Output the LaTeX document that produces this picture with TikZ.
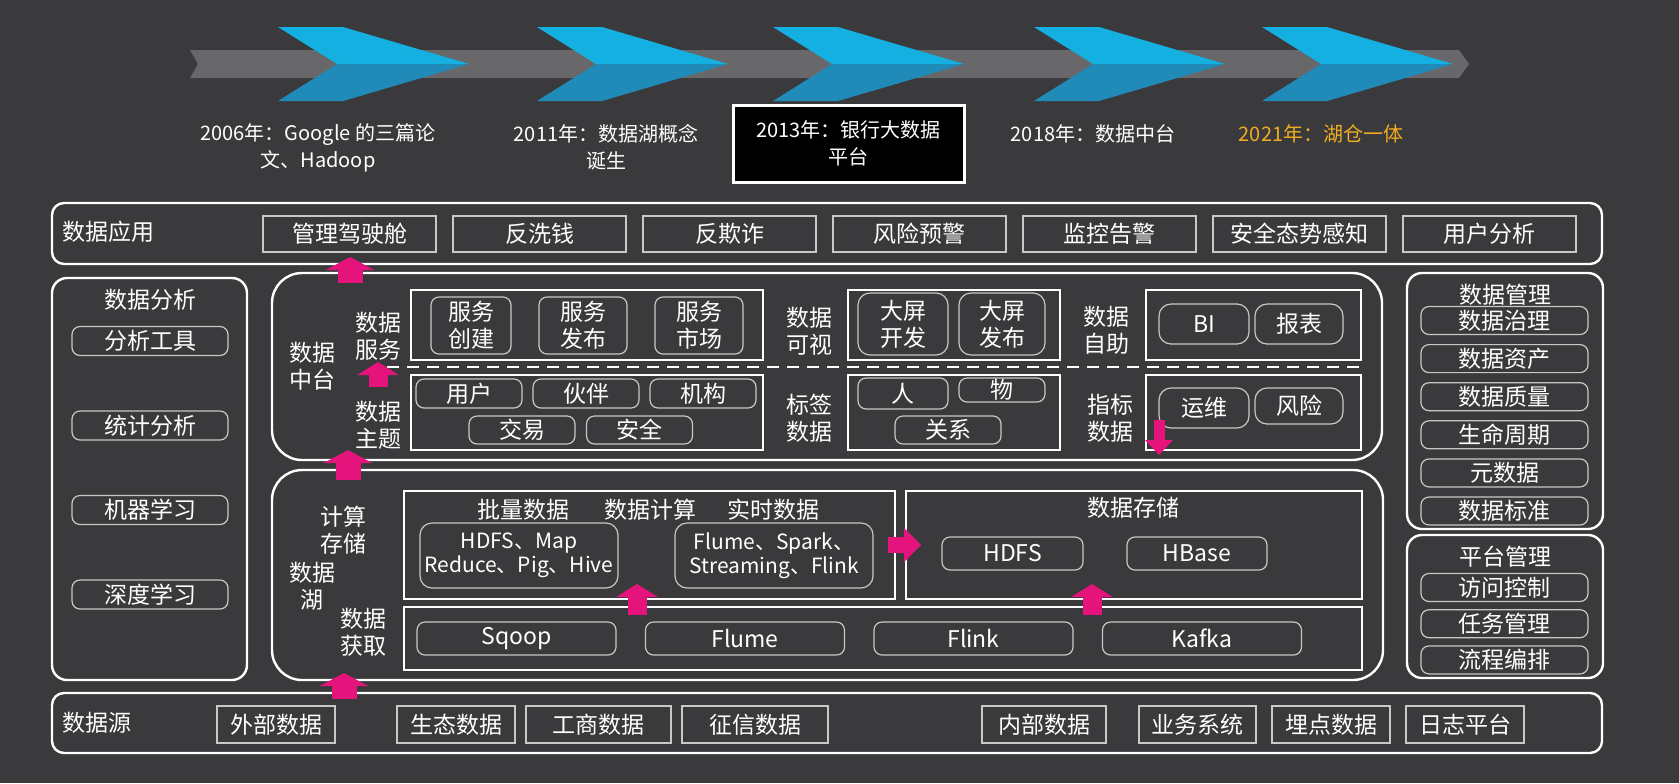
\documentclass[tikz,border=0pt]{standalone}
\usepackage{fontspec}
\setmainfont{Noto Sans CJK SC}
\usetikzlibrary{arrows.meta}

\definecolor{bgc}{RGB}{58,58,61}
\definecolor{barc}{RGB}{104,104,107}
\definecolor{cyantop}{RGB}{20,176,225}
\definecolor{cyanbot}{RGB}{32,138,184}
\definecolor{pinkc}{RGB}{228,20,124}
\definecolor{linec}{RGB}{200,200,200}
\definecolor{yearc}{RGB}{240,172,32}

\tikzset{
  wh/.style 2 args={minimum width=#1*0.5pt, minimum height=#2*0.5pt},
  txt/.style={text=white, font=\fontsize{11.5}{13.5}\selectfont, align=center, inner sep=0pt},
  yeartxt/.style={text=white, font=\fontsize{10}{13.5}\selectfont, align=center, inner sep=0pt},
  bigframe/.style={draw=white, line width=1.2pt, inner sep=0pt},
  boxframe/.style={draw=white, line width=0.9pt, inner sep=0pt},
  sqitem/.style={txt, draw=linec, line width=0.7pt},
  rditem/.style={txt, draw=linec, line width=0.6pt, rounded corners=4pt},
  pinkup/.style={draw=pinkc, line width=12.5pt, -{Triangle[width=24pt,length=6.5pt]}},
  pinkmid/.style={draw=pinkc, line width=9.5pt, -{Triangle[width=20.5pt,length=6.5pt]}},
  pinkright/.style={draw=pinkc, line width=8pt, -{Triangle[width=16.5pt,length=8.5pt]}},
  pinkdown/.style={draw=pinkc, line width=5.5pt, -{Triangle[width=13.5pt,length=7.5pt]}},
}

\begin{document}
\begin{tikzpicture}[x=0.5pt, y=-0.5pt]
    % Sfondo
    \fill[bgc] (0,0) rectangle (1679,783);
    % Linea del tempo
    \fill[barc] (190,50) -- (1459,50) -- (1469,64) -- (1459,78) -- (190,78) -- (198,64) -- cycle;
    \foreach \b in {278,537,773,1034,1262} {
        \fill[cyantop] (\b,27) -- (\b+65,27) -- (\b+191,64) -- (\b+59,64) -- cycle;
        \fill[cyanbot] (\b+59,64) -- (\b+191,64) -- (\b+65,101) -- (\b,101) -- cycle;
    }
    \node[yeartxt] (y2006) at (318,147.5) {2006年：Google 的三篇论\\文、Hadoop};
    \node[yeartxt] (y2011) at (606,147.5) {2011年：数据湖概念\\诞生};
    \node[yeartxt, fill=black, draw=white, line width=1.5pt, wh={231}{77}] (y2013) at (848.5,143.5) {2013年：银行大数据\\平台};
    \node[yeartxt] (y2018) at (1093,134) {2018年：数据中台};
    \node[yeartxt, text=yearc] (y2021) at (1321,134) {2021年：湖仓一体};

    % Dati applicazione
    \node[bigframe, rounded corners=6pt, wh={1550}{61}] (app) at (827,233.5) {};
    \node[txt, anchor=west] (appl) at (62,232) {数据应用};
    \foreach \t [count=\i from 0] in {管理驾驶舱,反洗钱,反欺诈,风险预警,监控告警,安全态势感知,用户分析}
        \node[sqitem, wh={173}{36}] (app\i) at (349.5+190*\i,234) {\t};

    % Analisi (sinistra)
    \node[bigframe, rounded corners=7.5pt, wh={195}{402}] (ana) at (149.5,479) {};
    \node[txt] (anal) at (150,300) {数据分析};
    \foreach \t [count=\i from 0] in {分析工具,统计分析,机器学习,深度学习}
        \node[rditem, wh={156}{29}] (ana\i) at (150,341+84.5*\i) {\t};

    % Gestione (destra)
    \node[bigframe, rounded corners=7.5pt, wh={196}{256}] (mgmt) at (1505,401) {};
    \node[txt] (mgmtl) at (1505,295) {数据管理};
    \foreach \t [count=\i from 0] in {数据治理,数据资产,数据质量,生命周期,元数据,数据标准}
        \node[rditem, wh={167}{28}] (mgmt\i) at (1504.5,320.5+38.1*\i) {\t};
    \node[bigframe, rounded corners=7.5pt, wh={196}{143}] (plat) at (1505,606.5) {};
    \node[txt] (platl) at (1505,557) {平台管理};
    \foreach \t [count=\i from 0] in {访问控制,任务管理,流程编排}
        \node[rditem, wh={167}{28}] (plat\i) at (1504.5,587.5+36.2*\i) {\t};

    % Data middle platform
    \node[bigframe, rounded corners=15pt, wh={1110}{187}] (zt) at (827,366.5) {};
    \node[txt] (ztl) at (312,366) {数据\\中台};
    \node[txt] (svcl) at (378,336) {数据\\服务};
    \node[txt] (topl) at (378,425) {数据\\主题};
    \node[txt] (visl) at (809,331) {数据\\可视};
    \node[txt] (tagl) at (809,418) {标签\\数据};
    \node[txt] (selfl) at (1106,330) {数据\\自助};
    \node[txt] (metl) at (1110,418) {指标\\数据};
    \node[boxframe, wh={352}{70}] (svc) at (587,325) {};
    \node[boxframe, wh={212}{70}] (vis) at (954,325) {};
    \node[boxframe, wh={215}{70}] (self) at (1253.5,325) {};
    \node[boxframe, wh={352}{75}] (topic) at (587,412.5) {};
    \node[boxframe, wh={212}{75}] (tag) at (954,412.5) {};
    \node[boxframe, wh={215}{75}] (metric) at (1253.5,412.5) {};
    \coordinate (dl1) at (387,367);
    \coordinate (dl2) at (1361,367);
    \draw[white, line width=0.9pt, dash pattern=on 6pt off 4pt] (dl1) -- (dl2);
    \node[rditem, wh={80}{57}] (fwcj) at (471,325.5) {服务\\创建};
    \node[rditem, wh={88}{57}] (fwfb) at (583,325.5) {服务\\发布};
    \node[rditem, wh={88}{57}] (fwsc) at (699,325.5) {服务\\市场};
    \node[rditem, wh={106}{29}] (yh) at (469,393.5) {用户};
    \node[rditem, wh={106}{29}] (hb) at (586,393.5) {伙伴};
    \node[rditem, wh={106}{29}] (jg) at (703,393.5) {机构};
    \node[rditem, wh={106}{28}] (jy) at (522,430) {交易};
    \node[rditem, wh={106}{28}] (aq) at (639.5,430) {安全};
    \node[rditem, rounded corners=6pt, wh={90}{62}] (dpkf) at (903,324) {大屏\\开发};
    \node[rditem, rounded corners=6pt, wh={86}{62}] (dpfb) at (1002,324) {大屏\\发布};
    \node[rditem, rounded corners=6pt, wh={90}{40}] (bi) at (1204,324) {BI};
    \node[rditem, rounded corners=6pt, wh={88}{40}] (bb) at (1299,324) {报表};
    \node[rditem, wh={90}{31}] (ren) at (903,393.5) {人};
    \node[rditem, wh={86}{24}] (wu) at (1002,390) {物};
    \node[rditem, wh={106}{28}] (gx) at (948,430) {关系};
    \node[rditem, rounded corners=6pt, wh={90}{40}] (yw) at (1204,408) {运维};
    \node[rditem, rounded corners=6pt, wh={88}{36}] (fx) at (1299,406) {风险};

    % Data lake
    \node[bigframe, rounded corners=15pt, wh={1111}{210}] (lake) at (827.5,575) {};
    \node[txt] (cbl) at (343,530) {计算\\存储};
    \node[txt] (lakel) at (312,586) {数据\\湖};
    \node[txt] (getl) at (363,632) {数据\\获取};
    \node[boxframe, wh={491}{108}] (comp) at (649.5,545) {};
    \node[boxframe, wh={456}{108}] (store) at (1134,545) {};
    \node[boxframe, wh={958}{63}] (ingest) at (883,638.5) {};
    \node[txt] (plsj) at (523,510) {批量数据};
    \node[txt] (sjjs) at (650,510) {数据计算};
    \node[txt] (sssj) at (773,510) {实时数据};
    \node[txt] (sjcc) at (1133,508) {数据存储};
    \node[rditem, rounded corners=6pt, font=\fontsize{10.5}{12}\selectfont, wh={198}{65}] (batch) at (519,555.5) {HDFS、Map\\Reduce、Pig、Hive};
    \node[rditem, rounded corners=6pt, font=\fontsize{10.5}{12}\selectfont, wh={198}{65}] (stream) at (774,555.5) {Flume、Spark、\\Streaming、Flink};
    \node[rditem, wh={141}{33}] (hdfs) at (1012.5,553.5) {HDFS};
    \node[rditem, wh={140}{33}] (hbase) at (1197,553.5) {HBase};
    \foreach \t [count=\i from 0] in {Sqoop,Flume,Flink,Kafka}
        \node[rditem, wh={199}{33}] (ing\i) at (516.5+228.5*\i,638.5) {\t};

    % Data source
    \node[bigframe, rounded corners=6pt, wh={1550}{60}] (src) at (827,723) {};
    \node[txt, anchor=west] (srcl) at (62,723) {数据源};
    \foreach \cx/\w/\t [count=\i] in {276/118/外部数据,456/118/生态数据,598.5/145/工商数据,755/146/征信数据,1044/124/内部数据,1197.5/117/业务系统,1331/118/埋点数据,1465/118/日志平台}
        \node[sqitem, wh={\w}{37}] (src\i) at (\cx,724.5) {\t};

    % Frecce
    \coordinate (p1a) at (350,283);  \coordinate (p1b) at (350,257);
    \coordinate (p2a) at (378,387);  \coordinate (p2b) at (378,362);
    \coordinate (p3a) at (348,480);  \coordinate (p3b) at (348,450);
    \coordinate (p4a) at (637,615);  \coordinate (p4b) at (637,584);
    \coordinate (p5a) at (1092,615); \coordinate (p5b) at (1092,584);
    \coordinate (p6a) at (344,699);  \coordinate (p6b) at (344,673);
    \coordinate (p7a) at (1159,420); \coordinate (p7b) at (1159,455);
    \draw[pinkup] (p1a) -- (p1b);
    \draw[pinkmid] (p2a) -- (p2b);
    \draw[pinkup] (p3a) -- (p3b);
    \draw[pinkmid] (p4a) -- (p4b);
    \draw[pinkmid] (p5a) -- (p5b);
    \draw[pinkup] (p6a) -- (p6b);
    \draw[pinkdown] (p7a) -- (p7b);
    \draw[pinkright] ([xshift=-4pt]comp.east) -- ([xshift=8pt]store.west);
\end{tikzpicture}
\end{document}
